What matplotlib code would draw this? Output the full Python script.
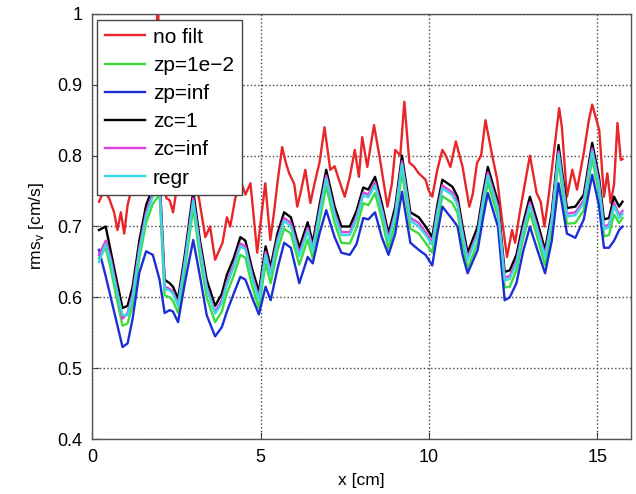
import matplotlib
matplotlib.use('Agg')
import matplotlib.pyplot as plt

# x positions (cm) for the filtered curves
xf = [0.2, 0.4, 0.55, 0.7, 0.9, 1.05, 1.2, 1.4, 1.6, 1.8, 2.0, 2.15, 2.3, 2.4, 2.55, 2.75,
      3.0, 3.2, 3.4, 3.65, 3.85, 4.0, 4.2, 4.4, 4.55, 4.75, 4.95, 5.15, 5.3, 5.5, 5.7, 5.9,
      6.15, 6.4, 6.55, 6.75, 6.95, 7.2, 7.4, 7.65, 7.85, 8.05, 8.2, 8.4, 8.6, 8.8, 9.0, 9.2,
      9.45, 9.7, 9.9, 10.1, 10.25, 10.4, 10.7, 10.85, 11.0, 11.15, 11.45, 11.6, 11.75, 12.05,
      12.25, 12.4, 12.6, 12.8, 13.0, 13.2, 13.45, 13.65, 13.85, 14.1, 14.35, 14.6, 14.85,
      15.05, 15.2, 15.35, 15.5, 15.65, 15.75]

zc1 = [0.695, 0.700, 0.665, 0.630, 0.585, 0.588, 0.615, 0.680, 0.730, 0.755, 0.770, 0.625,
       0.620, 0.615, 0.598, 0.660, 0.750, 0.680, 0.625, 0.588, 0.605, 0.632, 0.655, 0.685,
       0.680, 0.640, 0.608, 0.672, 0.643, 0.690, 0.720, 0.713, 0.670, 0.706, 0.677, 0.730,
       0.780, 0.728, 0.700, 0.700, 0.722, 0.755, 0.752, 0.770, 0.733, 0.690, 0.728, 0.800,
       0.720, 0.713, 0.700, 0.685, 0.730, 0.766, 0.756, 0.742, 0.700, 0.663, 0.700, 0.745,
       0.784, 0.735, 0.636, 0.638, 0.660, 0.705, 0.742, 0.710, 0.667, 0.720, 0.815, 0.726,
       0.728, 0.745, 0.818, 0.770, 0.710, 0.712, 0.742, 0.728, 0.735]

zcinf = [0.660, 0.680, 0.655, 0.620, 0.570, 0.578, 0.605, 0.670, 0.720, 0.748, 0.762, 0.615,
         0.612, 0.608, 0.590, 0.652, 0.740, 0.672, 0.615, 0.580, 0.596, 0.622, 0.646, 0.676,
         0.672, 0.632, 0.600, 0.664, 0.636, 0.682, 0.712, 0.705, 0.662, 0.698, 0.670, 0.722,
         0.772, 0.720, 0.692, 0.692, 0.714, 0.748, 0.745, 0.762, 0.726, 0.683, 0.720, 0.792,
         0.712, 0.705, 0.692, 0.678, 0.722, 0.758, 0.748, 0.734, 0.692, 0.656, 0.692, 0.737,
         0.776, 0.728, 0.628, 0.630, 0.652, 0.697, 0.734, 0.702, 0.660, 0.712, 0.806, 0.718,
         0.720, 0.737, 0.810, 0.762, 0.700, 0.703, 0.733, 0.716, 0.722]

regr = [0.650, 0.675, 0.650, 0.615, 0.575, 0.575, 0.600, 0.665, 0.715, 0.742, 0.756, 0.612,
        0.610, 0.605, 0.588, 0.648, 0.736, 0.668, 0.612, 0.577, 0.592, 0.618, 0.642, 0.672,
        0.668, 0.628, 0.596, 0.660, 0.632, 0.678, 0.708, 0.700, 0.658, 0.694, 0.666, 0.718,
        0.768, 0.716, 0.688, 0.688, 0.710, 0.744, 0.741, 0.758, 0.722, 0.679, 0.716, 0.788,
        0.708, 0.700, 0.688, 0.674, 0.718, 0.754, 0.744, 0.730, 0.688, 0.652, 0.688, 0.733,
        0.772, 0.724, 0.624, 0.626, 0.648, 0.693, 0.730, 0.698, 0.656, 0.708, 0.802, 0.714,
        0.716, 0.733, 0.806, 0.758, 0.696, 0.699, 0.729, 0.712, 0.718]

zp1e2 = [0.655, 0.670, 0.640, 0.605, 0.560, 0.563, 0.590, 0.655, 0.705, 0.732, 0.745, 0.603,
         0.600, 0.595, 0.578, 0.638, 0.726, 0.656, 0.600, 0.565, 0.580, 0.606, 0.630, 0.660,
         0.656, 0.616, 0.585, 0.648, 0.620, 0.666, 0.697, 0.690, 0.646, 0.682, 0.655, 0.707,
         0.757, 0.705, 0.677, 0.676, 0.698, 0.733, 0.730, 0.747, 0.711, 0.668, 0.705, 0.777,
         0.697, 0.690, 0.677, 0.663, 0.707, 0.743, 0.733, 0.719, 0.677, 0.641, 0.677, 0.722,
         0.762, 0.714, 0.614, 0.615, 0.638, 0.683, 0.720, 0.688, 0.645, 0.698, 0.792, 0.704,
         0.705, 0.723, 0.796, 0.748, 0.686, 0.688, 0.717, 0.705, 0.712]

zpinf = [0.667, 0.630, 0.600, 0.570, 0.530, 0.535, 0.570, 0.635, 0.665, 0.660, 0.625, 0.578,
         0.582, 0.580, 0.565, 0.620, 0.681, 0.630, 0.575, 0.545, 0.558, 0.580, 0.605, 0.629,
         0.625, 0.600, 0.576, 0.615, 0.596, 0.640, 0.677, 0.670, 0.620, 0.657, 0.648, 0.690,
         0.723, 0.685, 0.663, 0.660, 0.675, 0.712, 0.710, 0.720, 0.685, 0.660, 0.690, 0.749,
         0.677, 0.667, 0.660, 0.645, 0.690, 0.728, 0.710, 0.700, 0.660, 0.634, 0.667, 0.710,
         0.747, 0.700, 0.596, 0.600, 0.620, 0.665, 0.700, 0.670, 0.634, 0.680, 0.761, 0.690,
         0.684, 0.710, 0.773, 0.730, 0.670, 0.670, 0.680, 0.695, 0.700]

# unfiltered curve
xr = [0.2, 0.35, 0.5, 0.65, 0.75, 0.85, 0.95, 1.05, 1.2, 1.4, 1.6, 1.8, 1.95, 2.05, 2.2, 2.3,
      2.4, 2.5, 2.7, 2.9, 3.1, 3.36, 3.5, 3.65, 3.87, 4.0, 4.1, 4.25, 4.4, 4.55, 4.7, 4.9,
      5.0, 5.14, 5.29, 5.4, 5.5, 5.64, 5.75, 5.85, 6.0, 6.09, 6.2, 6.33, 6.48, 6.6, 6.75,
      6.9, 7.07, 7.2, 7.3, 7.5, 7.65, 7.8, 7.92, 8.02, 8.17, 8.37, 8.55, 8.77, 8.9, 9.0,
      9.15, 9.27, 9.42, 9.55, 9.7, 9.9, 10.0, 10.1, 10.25, 10.4, 10.5, 10.64, 10.8, 11.0,
      11.2, 11.3, 11.43, 11.55, 11.68, 11.88, 12.03, 12.17, 12.32, 12.47, 12.56, 12.7,
      12.85, 13.0, 13.2, 13.32, 13.43, 13.55, 13.7, 13.87, 13.95, 14.1, 14.26, 14.4, 14.6,
      14.75, 14.85, 15.06, 15.2, 15.3, 15.4, 15.5, 15.6, 15.7, 15.75]
nofilt = [0.735, 0.750, 0.740, 0.720, 0.695, 0.720, 0.690, 0.730, 0.760, 0.780, 0.800, 0.850,
          1.020, 0.860, 0.740, 0.737, 0.720, 0.750, 0.780, 0.800, 0.760, 0.685, 0.700, 0.653,
          0.677, 0.713, 0.700, 0.740, 0.766, 0.745, 0.761, 0.663, 0.705, 0.761, 0.681, 0.720,
          0.761, 0.812, 0.790, 0.775, 0.760, 0.728, 0.750, 0.780, 0.733, 0.760, 0.790, 0.840,
          0.780, 0.785, 0.770, 0.742, 0.770, 0.808, 0.770, 0.826, 0.784, 0.843, 0.794, 0.728,
          0.760, 0.808, 0.800, 0.876, 0.790, 0.785, 0.775, 0.766, 0.750, 0.742, 0.780, 0.808,
          0.800, 0.784, 0.820, 0.784, 0.728, 0.745, 0.790, 0.800, 0.850, 0.800, 0.766, 0.710,
          0.657, 0.695, 0.677, 0.720, 0.760, 0.800, 0.747, 0.735, 0.700, 0.740, 0.800, 0.867,
          0.840, 0.742, 0.780, 0.752, 0.804, 0.850, 0.872, 0.836, 0.742, 0.775, 0.733, 0.760,
          0.846, 0.794, 0.795]

plt.rcParams['font.family'] = ['Liberation Sans', 'DejaVu Sans']

fig = plt.figure(figsize=(6.36, 4.94), dpi=100)
ax = fig.add_axes([0.145, 0.111, 0.847, 0.861])

lw = 1.7
ax.plot(xr, nofilt, color='#e8262a', lw=lw, label='no filt')
ax.plot(xf, zp1e2, color='#3ddc3d', lw=lw, label='zp=1e\u22122')
ax.plot(xf, zpinf, color='#1c2fd6', lw=lw, label='zp=inf')
ax.plot(xf, zc1, color='black', lw=lw, label='zc=1')
ax.plot(xf, zcinf, color='#e040e0', lw=lw, label='zc=inf')
ax.plot(xf, regr, color='#3ad8e0', lw=lw, label='regr')

ax.set_xlim(0, 16)
ax.set_ylim(0.4, 1)
ax.set_xticks([0, 5, 10, 15])
ax.set_yticks([0.4, 0.5, 0.6, 0.7, 0.8, 0.9, 1])
ax.set_yticklabels(['0.4', '0.5', '0.6', '0.7', '0.8', '0.9', '1'])
ax.grid(True, linestyle=':', color='#444444', linewidth=1)
ax.tick_params(direction='in', labelsize=13, length=5, color='#444444', pad=7)
for s in ax.spines.values():
    s.set_color('#555555')
    s.set_linewidth(1)

ax.set_xlabel('x [cm]', fontsize=12.5, labelpad=5)
ax.set_ylabel('rms$_\\mathregular{v}$ [cm/s]', fontsize=12.5, labelpad=8)

leg = ax.legend(loc='upper left', bbox_to_anchor=(0.009, 0.986), borderaxespad=0,
                fontsize=15, handlelength=1.9, labelspacing=0.44, fancybox=False,
                framealpha=1, edgecolor='#444444', handletextpad=0.4, borderpad=0.38)
leg.get_frame().set_linewidth(1)

fig.savefig('out.png', dpi=100)
